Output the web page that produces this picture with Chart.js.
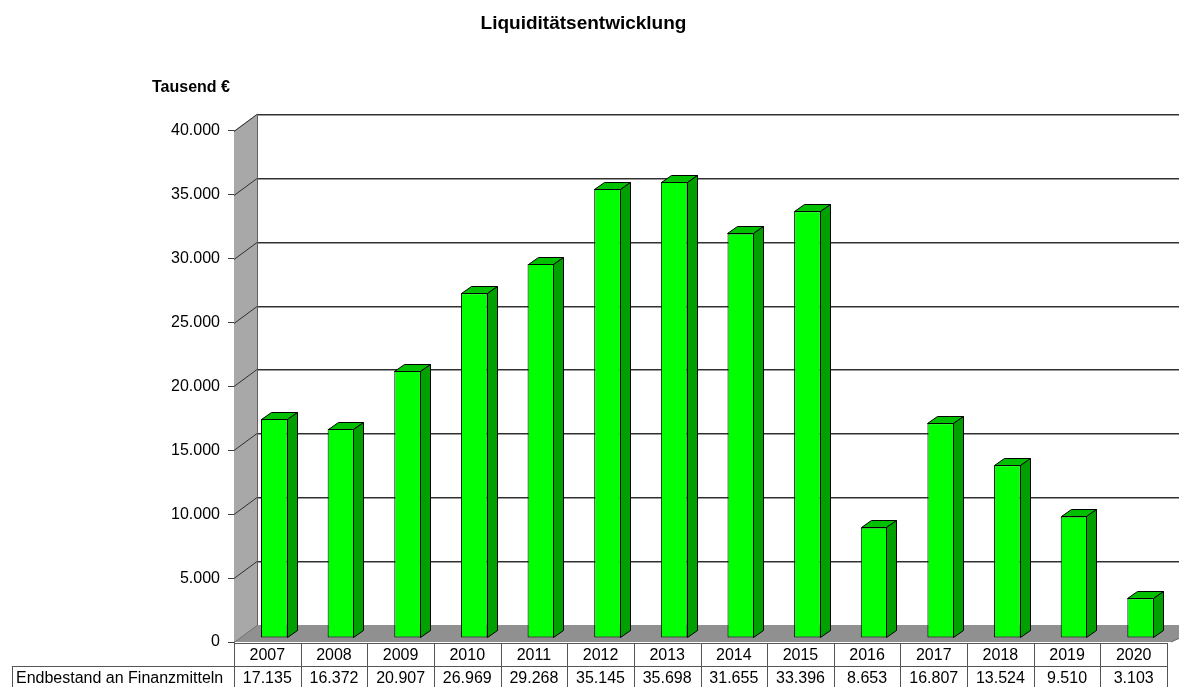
<!DOCTYPE html>
<html>
<head>
<meta charset="utf-8">
<script src="https://cdn.jsdelivr.net/npm/chart.js@4"></script>
<style>
  html, body { margin: 0; padding: 0; background: #fff; }
  #wrap { width: 1179px; height: 687px; }
</style>
</head>
<body>
<div id="wrap"><canvas id="chart"></canvas></div>
<script>
// Werte in Tausend €
const jahre = ['2007', '2008', '2009', '2010', '2011', '2012', '2013', '2014', '2015', '2016', '2017', '2018', '2019', '2020'];
const endbestand = [17135, 16372, 20907, 26969, 29268, 35145, 35698, 31655, 33396, 8653, 16807, 13524, 9510, 3103];
const zeilenLabel = 'Endbestand an Finanzmitteln';
const yMax = 40000;
const yStep = 5000;

const FONT = '"Liberation Sans", Arial, sans-serif';

// 3D-Tiefe: Rückwand gegenüber Vorderkante verschoben
const DX = 23, DY = -17;
// Säulen: Vorderseite leicht nach hinten, Seitentiefe
const BAR_OFF_X = 7, BAR_OFF_Y = -4;
const BAR_DX = 10, BAR_DY = -7;

function fmt(n) {
  return String(n).replace(/\B(?=(\d{3})+(?!\d))/g, '.');
}

const plot3d = {
  id: 'plot3d',
  beforeDatasetsDraw(chart) {
    const ctx = chart.ctx;
    const a = chart.chartArea;
    const y = chart.scales.y;
    const W = chart.width;

    ctx.save();
    // Seitenwand
    ctx.fillStyle = '#a8a8a8';
    ctx.beginPath();
    ctx.moveTo(a.left, a.top);
    ctx.lineTo(a.left + DX, a.top + DY);
    ctx.lineTo(a.left + DX, a.bottom + DY);
    ctx.lineTo(a.left, a.bottom);
    ctx.closePath();
    ctx.fill();

    // Boden
    ctx.fillStyle = '#909090';
    ctx.beginPath();
    ctx.moveTo(a.left, a.bottom);
    ctx.lineTo(a.left + DX, a.bottom + DY);
    ctx.lineTo(W + 30, a.bottom + DY);
    ctx.lineTo(a.right + 4, a.bottom);
    ctx.closePath();
    ctx.fill();
    ctx.strokeStyle = '#666';
    ctx.lineWidth = 1;
    ctx.beginPath();
    ctx.moveTo(a.right + 4, a.bottom);
    ctx.lineTo(a.right + 4 + (-DY), a.bottom + DY * 0.45);
    ctx.stroke();

    // Gitternetz
    for (let v = 0; v <= yMax; v += yStep) {
      const py = Math.round(y.getPixelForValue(v)) + 0.5;
      if (v > 0) {
        ctx.strokeStyle = '#9a9a9a';
        ctx.beginPath();
        ctx.moveTo(a.left + DX, py + DY + 1);
        ctx.lineTo(W, py + DY + 1);
        ctx.stroke();
        ctx.strokeStyle = '#303030';
        ctx.beginPath();
        ctx.moveTo(a.left, py);
        ctx.lineTo(a.left + DX, py + DY);
        ctx.lineTo(W, py + DY);
        ctx.stroke();
      } else {
        ctx.strokeStyle = '#707070';
        ctx.beginPath();
        ctx.moveTo(a.left, py);
        ctx.lineTo(a.left + DX, py + DY);
        ctx.stroke();
      }
    }
    // Kante Seitenwand / Rückwand
    ctx.strokeStyle = '#606060';
    ctx.beginPath();
    ctx.moveTo(a.left + DX + 0.5, a.top + DY);
    ctx.lineTo(a.left + DX + 0.5, a.bottom + DY);
    ctx.stroke();
    ctx.restore();

    // Vorderseiten der Säulen nach hinten versetzen
    ctx.save();
    ctx.translate(BAR_OFF_X, BAR_OFF_Y);
  },
  afterDatasetsDraw(chart) {
    const ctx = chart.ctx;
    const meta = chart.getDatasetMeta(0);
    ctx.lineWidth = 1;
    ctx.strokeStyle = '#000';
    meta.data.forEach(bar => {
      const l = Math.round(bar.x - bar.width / 2) + 0.5;
      const r = Math.round(bar.x + bar.width / 2) - 0.5;
      const t = Math.round(bar.y) + 0.5;
      const b = Math.round(bar.base) - 0.5;
      // Deckfläche
      ctx.fillStyle = '#00c000';
      ctx.beginPath();
      ctx.moveTo(l, t);
      ctx.lineTo(l + BAR_DX, t + BAR_DY);
      ctx.lineTo(r + BAR_DX, t + BAR_DY);
      ctx.lineTo(r, t);
      ctx.closePath();
      ctx.fill();
      ctx.stroke();
      // Seitenfläche
      ctx.fillStyle = '#00a000';
      ctx.beginPath();
      ctx.moveTo(r, t);
      ctx.lineTo(r + BAR_DX, t + BAR_DY);
      ctx.lineTo(r + BAR_DX, b + BAR_DY);
      ctx.lineTo(r, b);
      ctx.closePath();
      ctx.fill();
      ctx.stroke();
    });
    ctx.restore();
  },
  afterDraw(chart) {
    const ctx = chart.ctx;
    const a = chart.chartArea;
    const x = chart.scales.x;
    const step = (a.right - a.left) / jahre.length;
    const top = a.bottom + 1;
    const rowH = 23;

    ctx.save();
    // Achsentitel
    ctx.font = 'bold 16px ' + FONT;
    ctx.fillStyle = '#000';
    ctx.textAlign = 'left';
    ctx.textBaseline = 'middle';
    ctx.fillText('Tausend €', 152, 88);

    // Datentabelle
    ctx.strokeStyle = '#555';
    ctx.lineWidth = 1;
    ctx.beginPath();
    ctx.moveTo(a.left, top + 0.5);
    ctx.lineTo(a.right, top + 0.5);
    ctx.moveTo(12, top + rowH + 0.5);
    ctx.lineTo(a.right, top + rowH + 0.5);
    ctx.moveTo(12.5, top + rowH);
    ctx.lineTo(12.5, chart.height);
    ctx.stroke();

    ctx.font = '16px ' + FONT;
    ctx.textAlign = 'left';
    ctx.fillText(zeilenLabel, 16, top + rowH * 1.5 + 1);
    ctx.textAlign = 'center';
    jahre.forEach((j, i) => {
      const cx = x.getPixelForValue(i);
      const lx = Math.round(cx - step / 2) + 0.5;
      ctx.beginPath();
      ctx.moveTo(lx, top);
      ctx.lineTo(lx, chart.height);
      ctx.stroke();
      ctx.fillText(j, cx, top + rowH * 0.5 + 1);
      ctx.fillText(fmt(endbestand[i]), cx, top + rowH * 1.5 + 1);
    });
    const rx = Math.round(a.right) + 0.5;
    ctx.beginPath();
    ctx.moveTo(rx, top);
    ctx.lineTo(rx, chart.height);
    ctx.stroke();
    ctx.restore();
  }
};

new Chart(document.getElementById('chart'), {
  type: 'bar',
  data: {
    labels: jahre,
    datasets: [{
      label: zeilenLabel,
      data: endbestand,
      backgroundColor: '#00ff00',
      borderColor: '#000',
      borderWidth: 1,
      borderSkipped: false,
      barPercentage: 0.4,
      categoryPercentage: 1
    }]
  },
  options: {
    responsive: true,
    maintainAspectRatio: false,
    animation: false,
    layout: { padding: { left: 0, right: 12, top: 0, bottom: 45 } },
    plugins: {
      legend: { display: false },
      tooltip: { enabled: false },
      title: {
        display: true,
        text: 'Liquiditätsentwicklung',
        color: '#000',
        font: { family: FONT, size: 19, weight: 'bold' },
        padding: { top: 12, bottom: 96 }
      }
    },
    scales: {
      x: {
        display: false,
        offset: true
      },
      y: {
        min: 0,
        max: yMax,
        afterFit(scale) { scale.width = 234; },
        ticks: {
          stepSize: yStep,
          color: '#000',
          padding: 8,
          font: { family: FONT, size: 16 },
          callback: v => fmt(v)
        },
        grid: {
          drawOnChartArea: false,
          drawTicks: true,
          tickLength: 6,
          color: '#404040'
        },
        border: { display: true, color: '#404040', width: 1 }
      }
    }
  },
  plugins: [plot3d]
});
</script>
</body>
</html>
